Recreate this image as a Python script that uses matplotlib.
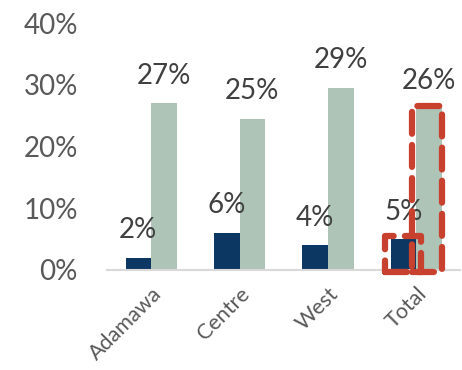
import matplotlib.pyplot as plt
import numpy as np

regions = ['Adamawa', 'Centre', 'West', 'Total']
series_a = [0.02, 0.06, 0.04, 0.05]
series_b = [0.27, 0.245, 0.295, 0.262]
labels_a = ['2%', '6%', '4%', '5%']
labels_b = ['27%', '25%', '29%', '26%']
y_ticks = [0, 0.1, 0.2, 0.3, 0.4]
y_tick_labels = ['0%', '10%', '20%', '30%', '40%']

plt.rcParams['font.family'] = ['Lato', 'DejaVu Sans']

dark = '#0B3762'
green = '#ADC4B7'
red = '#C8402E'
grey_txt = '#595959'
label_txt = '#404040'

fig = plt.figure(figsize=(4.62, 3.70), dpi=100)
ax = fig.add_axes([0.2316, 0.2703, 0.765, 0.6675])

x = np.arange(len(regions))
w = 0.29
bars_a = ax.bar(x - w / 2, series_a, width=w, color=dark, zorder=2)
bars_b = ax.bar(x + w / 2, series_b, width=w, color=green, zorder=2)

# value labels above each bar
for bars, labs in [(bars_a, labels_a), (bars_b, labels_b)]:
    for b, lab in zip(bars, labs):
        ax.annotate(lab, (b.get_x() + b.get_width() / 2, b.get_height()),
                    xytext=(0, 14), textcoords='offset points',
                    ha='center', va='baseline', fontsize=20, color=label_txt)

# dashed highlight boxes around the Total bars
for b, pad_l, pad_r, pad_t in [(bars_a[-1], 0.06, 0.05, 0.005),
                               (bars_b[-1], 0.05, 0.0, 0.003)]:
    x0 = b.get_x() - pad_l
    x1 = b.get_x() + b.get_width() + pad_r
    rect = plt.Rectangle((x0, -0.004), x1 - x0, b.get_height() + pad_t + 0.004,
                         fill=False, edgecolor=red, linewidth=4.5,
                         linestyle=(0, (3.5, 1.8)), joinstyle='round',
                         capstyle='round', zorder=3, clip_on=False)
    ax.add_patch(rect)

ax.set_xlim(-0.5, 3.5)
ax.set_ylim(0, 0.40)
ax.set_yticks(y_ticks)
ax.set_yticklabels(y_tick_labels, fontsize=20, color=grey_txt)
ax.set_xticks(x)
ax.set_xticklabels(regions, fontsize=15.5, color=grey_txt, rotation=45,
                   ha='right', rotation_mode='anchor')
ax.tick_params(axis='both', length=0)
ax.tick_params(axis='y', pad=21)
ax.tick_params(axis='x', pad=10)

for side in ['top', 'right', 'left']:
    ax.spines[side].set_visible(False)
ax.spines['bottom'].set_color('#D9D9D9')
ax.spines['bottom'].set_linewidth(1.5)

fig.savefig('out.png', dpi=100)
